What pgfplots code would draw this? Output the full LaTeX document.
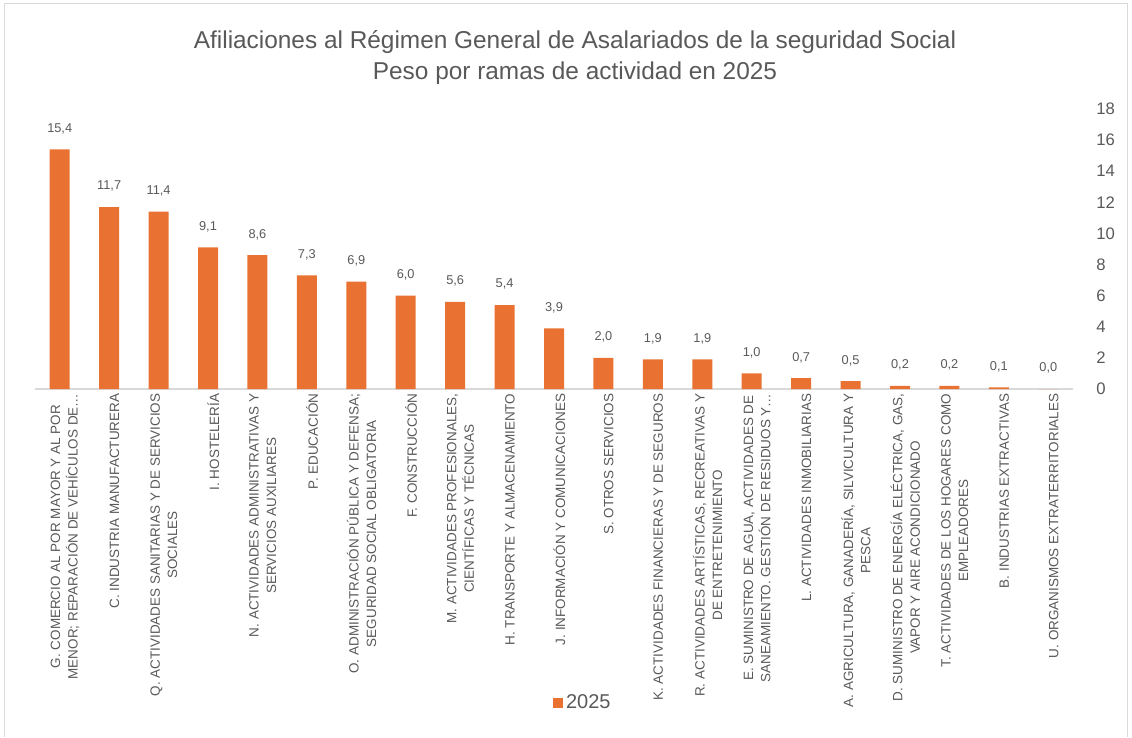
\documentclass[border=0pt]{standalone}
\usepackage{fontspec}
\setmainfont{Liberation Sans}
\usepackage{pgfplots}
\pgfplotsset{compat=1.18}
\definecolor{BarOrange}{HTML}{E97132}
\definecolor{TxtGray}{HTML}{595959}
\definecolor{LineGray}{HTML}{D9D9D9}

\begin{document}
\begin{tikzpicture}
\begin{axis}[
  at={(0,0)},anchor=south west,
  scale only axis,
  width=778.5pt,height=210pt,
  ymin=0,ymax=18,ytick={0,2,...,18},
  xmin=-0.5,xmax=20.5,
  axis x line*=bottom,axis y line*=right,
  x axis line style={draw=LineGray,line width=1pt},
  y axis line style={draw=none},
  major tick length=0pt,
  xtick=data,
  xticklabels={
    {G. COMERCIO AL POR MAYOR Y AL POR\\MENOR; REPARACIÓN DE VEHÍCULOS DE…},
    {C. INDUSTRIA MANUFACTURERA},
    {Q. ACTIVIDADES SANITARIAS Y DE SERVICIOS\\SOCIALES},
    {I. HOSTELERÍA},
    {N. ACTIVIDADES ADMINISTRATIVAS Y\\SERVICIOS AUXILIARES},
    {P. EDUCACIÓN},
    {O. ADMINISTRACIÓN PÚBLICA Y DEFENSA;\\SEGURIDAD SOCIAL OBLIGATORIA},
    {F. CONSTRUCCIÓN},
    {M. ACTIVIDADES PROFESIONALES,\\CIENTÍFICAS Y TÉCNICAS},
    {H. TRANSPORTE Y ALMACENAMIENTO},
    {J. INFORMACIÓN Y COMUNICACIONES},
    {S. OTROS SERVICIOS},
    {K. ACTIVIDADES FINANCIERAS Y DE SEGUROS},
    {R. ACTIVIDADES ARTÍSTICAS, RECREATIVAS Y\\DE ENTRETENIMIENTO},
    {E. SUMINISTRO DE AGUA, ACTIVIDADES DE\\SANEAMIENTO. GESTIÓN DE RESIDUOS Y…},
    {L. ACTIVIDADES INMOBILIARIAS},
    {A. AGRICULTURA, GANADERÍA, SILVICULTURA Y\\PESCA},
    {D. SUMINISTRO DE ENERGÍA ELÉCTRICA, GAS,\\VAPOR Y AIRE ACONDICIONADO},
    {T. ACTIVIDADES DE LOS HOGARES COMO\\EMPLEADORES},
    {B. INDUSTRIAS EXTRACTIVAS},
    {U. ORGANISMOS EXTRATERRITORIALES}},
  xticklabel style={rotate=90,anchor=east,align=center,
    font=\fontsize{10.1pt}{13pt}\selectfont,text=TxtGray,yshift=-4pt},
  yticklabel style={font=\fontsize{12.5pt}{14pt}\selectfont,text=TxtGray,anchor=west,xshift=14pt},
  /pgf/number format/assume math mode=true,
  ybar,bar width=15pt,
  nodes near coords,
  nodes near coords style={font=\fontsize{9.6pt}{12pt}\selectfont,text=TxtGray,yshift=8pt,
    /pgf/number format/.cd,fixed,fixed zerofill,precision=1,use comma},
  legend style={at={(0.4985,-1.121)},anchor=west,draw=none,fill=none,
    font=\fontsize{15pt}{17pt}\selectfont,text=TxtGray,inner sep=0pt},
  legend image code/.code={\fill[BarOrange] (-3pt,-4pt) rectangle (5pt,4pt);},
  clip=false]
\addplot[fill=BarOrange,draw=none] coordinates {
  (0,15.4) (1,11.7) (2,11.4) (3,9.1) (4,8.6) (5,7.3) (6,6.9)
  (7,6.0) (8,5.6) (9,5.4) (10,3.9) (11,2.0) (12,1.9) (13,1.9)
  (14,1.0) (15,0.7) (16,0.5) (17,0.2) (18,0.2) (19,0.1) (20,0.0)};
\legend{2025}
\end{axis}
\node[text=TxtGray,font=\fontsize{18.3pt}{22pt}\selectfont] at (405pt,260.25pt)
  {Afiliaciones al Régimen General de Asalariados de la seguridad Social};
\node[text=TxtGray,font=\fontsize{18.3pt}{22pt}\selectfont] at (405pt,237pt)
  {Peso por ramas de actividad en 2025};
\pgfresetboundingbox
\draw[LineGray,line width=0.75pt] (-22.5pt,-261pt) -- (-22.5pt,288.75pt) -- (819pt,288.75pt) -- (819pt,-261pt);
\path (-26.25pt,-261pt) rectangle (822.75pt,291.75pt);
\end{tikzpicture}
\end{document}
